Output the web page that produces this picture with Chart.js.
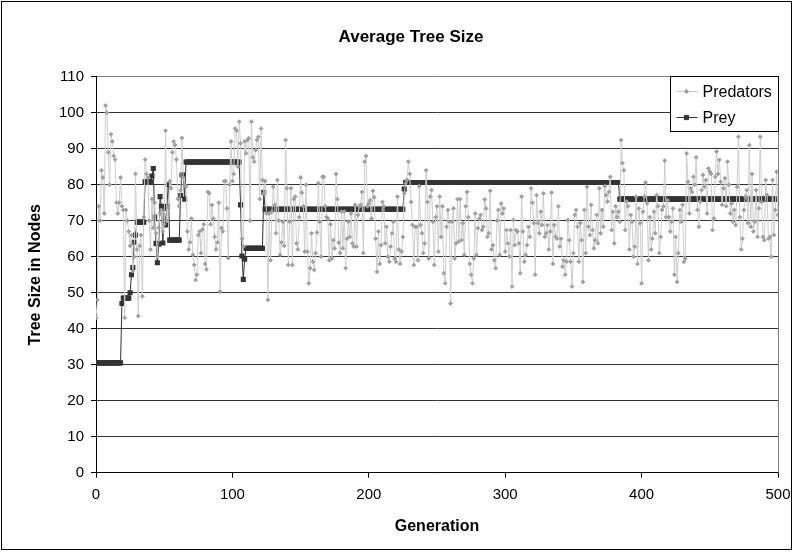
<!DOCTYPE html>
<html>
<head>
<meta charset="utf-8">
<script src="https://cdn.jsdelivr.net/npm/chart.js@4"></script>
<style>
  html, body { margin: 0; padding: 0; background: #fff; }
  #wrap { position: relative; width: 794px; height: 552px; }
</style>
</head>
<body>
<div id="wrap"><canvas id="chart" width="794" height="552"></canvas></div>
<script>
// average tree size per generation (gen 0..500)
const predators = [
  43,48,74,70,84,82,72,102,100,89,80,94,92,88,87,75,72,75,82,74,73,43,73,70,67,63,66,56,60,83,62,43.5,63,66,49,71,87,83,82,70,62,76,
  68,75,66.5,60,68,72,73,67,69,95,70,74,81,79,89,92,91,87,76,74,78.5,93,82,80,79.5,67,62,64,70.6,60.5,57.7,53.5,55,66,67,61,67.6,69,58,56.5,78,77.6,69,
  74.4,70.6,65.5,62,64,75,50.3,68,67,81,81,73.4,59.6,80,92,81,83,95.6,95,85,97.5,91.5,65,62.8,92,88.7,92.4,92.9,70,97.5,87.6,86.4,89.6,92.4,93.3,76,95.6,81.3,77.6,81,72,48,72,
  59,72.5,79.4,74.4,66.5,81.3,70,60.5,64,69.7,63,92.4,79,57.7,69.7,79,57.7,76,76.7,63.7,62,71,82,77.8,74,61.4,80,61.4,52.6,56.8,66.5,58.6,56.3,61,66.7,80.4,69.7,60,82.2,82.2,74,71,
  70.6,59,69,59.5,64.6,62.3,83,76,63.9,61,72.5,62.3,72.5,56.8,65,69.7,65.5,72,63.7,62.8,74.4,62.8,71.6,73.9,74.4,78,61,86.4,88,74,74.8,75.7,70.6,78.3,76.5,65,55.8,67,58,63.2,75.2,74,
  63.7,68.3,60,58.6,62.8,66.5,69.7,59.5,58.6,76.7,62,58,61.4,65.5,77.6,80.4,81.3,86.4,83,75.2,68.8,57.7,68.3,68.3,59,79.6,68.8,66.5,61,63.7,84,75.2,59.5,76.7,78.5,69.7,57.7,71,74,61.4,76.7,
  65.5,74,55.4,52.6,68.3,73,69.7,47,69.7,73.4,59.5,63.7,76,64.2,76,64.6,69.3,60.5,74,78,71,58,55,52.6,59.5,72,60.5,67.9,70.6,71.6,67.4,68.3,75.9,73.4,65.5,66.5,78.3,62,63.2,59,56.8,70,
  73,60.5,74.8,72,73.4,61.4,67.4,63.7,60,67.4,51.7,70.2,63.2,67.4,67,63.7,55.4,76.7,67,58.6,60.5,63.2,68.3,65.5,79,75,69.3,55,77.1,69.3,66.5,72.5,68.8,77.6,65.5,66.5,68.8,62,67,77.8,58,68.8,
  65.5,65,74,62.8,65,57.2,59,55,58.6,70.2,64.6,58.6,51.7,61,71.6,73,68.3,58.6,69.3,64.6,53,73,61,79.4,68.3,66,74.4,67.4,62.3,64.6,71.6,63.7,79,66.5,73,68.3,79.6,77.1,75.3,78,82.2,
  67.4,72.5,63.7,74,71,72.5,69.7,92.4,86,84,67.4,75.3,74,62,71.6,69.7,60,62.8,76.7,58,73.4,69.3,52.6,72.5,76.7,80.6,74.8,59,71,62,65,72.5,66.5,77.1,74,61,65.5,73,74,86.7,71,75.7,
  71,67,69.7,73.4,55,65.5,53,61,73,69.7,74.4,58.6,59.5,88.7,80.8,72,79,78,82.2,80,87.6,73,68.3,75.3,78.5,82.7,79.4,81.3,72,84.5,83.6,83,67.4,70.6,82.2,89.2,83,86.9,80.8,74.4,79,81.8,
  74,86.4,80,72,74.8,69.7,73,68.8,79.4,93.3,71,62,65,73,76.7,78.5,69.3,91,68.3,83,67,69.7,78.5,65.5,73.4,93.3,75.2,65.5,64.6,81.3,77.1,65,65.5,60,81.3,66,73,83.6,71.6
];

// prey size only changes now and then: generation where a value starts, and that value
const preyStart = [0,19,20,25,26,27,28,29,30,36,41,42,43,44,45,46,47,48,49,50,51,52,53,54,62,63,65,66,106,107,108,109,110,123,124,226,227,384];
const preyValue = [30.5,47,48.5,50,55,57,64,66,69.6,80.8,82.4,84.5,71,63.7,58.3,63.5,76.7,74,63.8,73.4,68.8,74,80,64.6,77,82.7,76,86.3,74.4,60.2,53.7,59.3,62.3,77.9,73.2,78.8,80.6,76];

const LAST_GEN = 500;
const Y_MAX = 110;

const FONT = 'Arial, "Liberation Sans", sans-serif';

const predPoints = predators.map((v, i) => ({ x: i, y: v }));
const preyPoints = [];
for (let g = 0, k = 0; g <= LAST_GEN; g++) {
  while (k + 1 < preyStart.length && preyStart[k + 1] <= g) k++;
  preyPoints.push({ x: g, y: preyValue[k] });
}

// white card with thin frame, title, grey plot border on the right, legend box in the corner
const excelFrame = {
  id: 'excelFrame',
  beforeDraw(chart) {
    const c = chart.ctx;
    c.save();
    c.fillStyle = '#fff';
    c.fillRect(0, 0, chart.width, chart.height);
    c.restore();
  },
  afterDraw(chart) {
    const c = chart.ctx;
    const a = chart.chartArea;
    c.save();
    c.lineWidth = 1;
    c.strokeStyle = '#808080';
    c.beginPath();
    c.moveTo(Math.round(a.right) + 0.5, a.top);
    c.lineTo(Math.round(a.right) + 0.5, a.bottom);
    c.stroke();

    c.strokeStyle = '#000';
    c.strokeRect(1.5, 1.5, chart.width - 4, chart.height - 4);

    c.fillStyle = '#000';
    c.font = 'bold 17px ' + FONT;
    c.textAlign = 'center';
    c.textBaseline = 'middle';
    c.fillText('Average Tree Size', 411, 37);

    // legend
    const lx = 670.5, ly = 76.5, lw = 108, lh = 55;
    c.fillStyle = '#fff';
    c.fillRect(lx, ly, lw, lh);
    c.strokeRect(lx, ly, lw, lh);
    const rows = [
      { label: 'Predators', line: '#c8c8c8', mark: '#a0a0a0', style: 'rectRot', r: 2.2, y: ly + 15 },
      { label: 'Prey', line: '#333', mark: '#333', style: 'rect', r: 3, y: ly + 41 }
    ];
    rows.forEach(row => {
      c.strokeStyle = row.line;
      c.beginPath();
      c.moveTo(lx + 6, row.y);
      c.lineTo(lx + 27, row.y);
      c.stroke();
      c.fillStyle = row.mark;
      c.strokeStyle = row.mark;
      Chart.helpers.drawPoint(c, { pointStyle: row.style, radius: row.r, borderWidth: 1, rotation: 0 }, lx + 16, row.y);
      c.fillStyle = '#000';
      c.font = '16px ' + FONT;
      c.textBaseline = 'middle';
      c.textAlign = 'left';
      c.fillText(row.label, lx + 32, row.y + 1);
    });
    c.restore();
  }
};

new Chart(document.getElementById('chart'), {
  type: 'line',
  data: {
    datasets: [
      {
        label: 'Predators',
        data: predPoints,
        borderColor: '#cdcdcd',
        borderWidth: 1,
        pointStyle: 'rectRot',
        pointRadius: 1.9,
        pointBackgroundColor: '#a0a0a0',
        pointBorderColor: '#a0a0a0',
        pointBorderWidth: 1,
        tension: 0
      },
      {
        label: 'Prey',
        data: preyPoints,
        borderColor: '#333',
        borderWidth: 1,
        pointStyle: 'rect',
        pointRadius: 3.6,
        pointBackgroundColor: '#333',
        pointBorderWidth: 0,
        tension: 0
      }
    ]
  },
  options: {
    responsive: false,
    animation: false,
    devicePixelRatio: 1,
    layout: { padding: { top: 76.7, right: 16, bottom: 0, left: 0 } },
    plugins: {
      legend: { display: false },
      tooltip: { enabled: false },
      title: { display: false }
    },
    scales: {
      x: {
        type: 'linear',
        min: 0,
        max: LAST_GEN,
        // fixed box: plot ends at x=778 whatever the label widths are
        afterFit: s => { s.height = 79.3; s.paddingLeft = 0; s.paddingRight = 0; },
        ticks: {
          stepSize: 100,
          padding: 8,
          color: '#000',
          maxRotation: 0,
          font: { family: FONT, size: 15 }
        },
        grid: { drawOnChartArea: false, drawTicks: true, tickLength: 5, tickColor: '#000' },
        border: { color: '#000', width: 1 },
        title: {
          display: true,
          text: 'Generation',
          color: '#000',
          font: { family: FONT, size: 16, weight: 'bold', lineHeight: 1.2 },
          padding: { top: 0, bottom: 16 }
        }
      },
      y: {
        min: 0,
        max: Y_MAX,
        afterFit: s => { s.width = 96; },
        ticks: {
          stepSize: 10,
          padding: 7,
          color: '#000',
          font: { family: FONT, size: 15 }
        },
        grid: {
          color: ctx => (ctx.tick && ctx.tick.value === Y_MAX ? '#808080' : '#333'),
          tickColor: '#000',
          tickLength: 5,
          lineWidth: 1
        },
        border: { color: '#000', width: 1 },
        title: {
          display: true,
          text: 'Tree Size in Nodes',
          color: '#000',
          font: { family: FONT, size: 16, weight: 'bold', lineHeight: 1.2 },
          padding: { top: 26, bottom: 0 }
        }
      }
    }
  },
  plugins: [excelFrame]
});
</script>
</body>
</html>
